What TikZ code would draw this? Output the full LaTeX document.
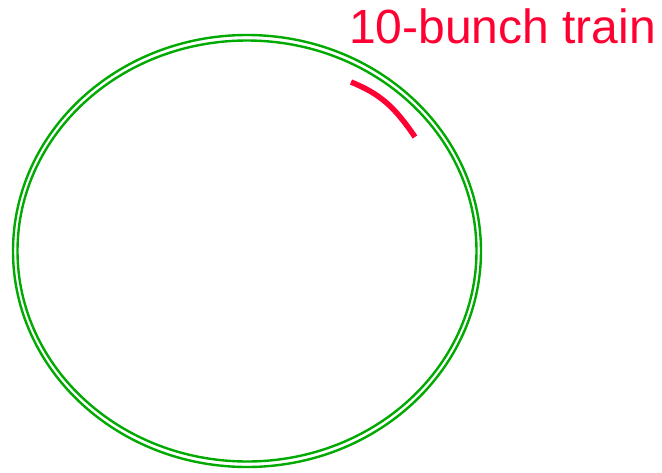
\documentclass[tikz,border=0pt]{standalone}
\usepackage{fontspec}
\setmainfont{Liberation Sans}
\definecolor{ringgreen}{RGB}{0,170,0}
\definecolor{trainred}{RGB}{255,0,51}
\tikzset{
  ring/.style={draw=ringgreen, line width=2.4pt},
  train/.style={draw=trainred, line width=5.5pt},
  label/.style={text=trainred, font=\fontsize{48}{54}\selectfont, inner sep=0pt, anchor=base west}
}
\begin{document}
\begin{tikzpicture}[x=1pt,y=-1pt]
\useasboundingbox (0,0) rectangle (662,472);
\coordinate (c) at (247,251);
\draw[ring] (c) ellipse [x radius=234, y radius=216];
\draw[ring] (c) ellipse [x radius=229.5, y radius=210.5];
\coordinate (t1) at (351,82);
\coordinate (t2) at (415,137);
\draw[train] (t1) .. controls (380,94) and (394,106) .. (t2);
\node[label] (lbl) at (349,43) {10-bunch train};
\end{tikzpicture}
\end{document}
